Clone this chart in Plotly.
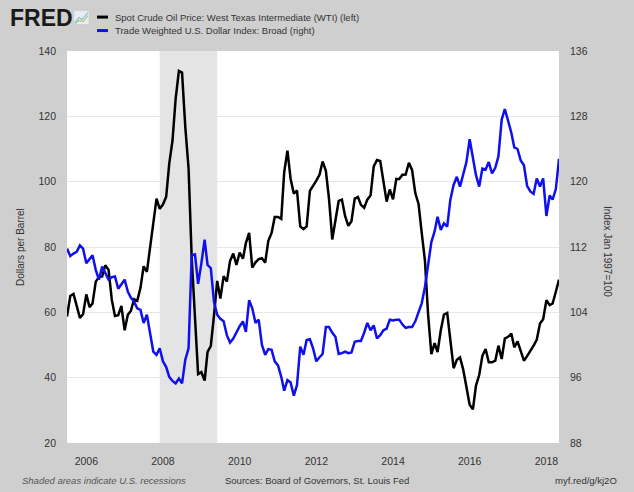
import plotly.graph_objects as go
import pandas as pd

# monthly observations, Jul 2005 .. May 2018
months = pd.date_range("2005-07-01", "2018-05-01", freq="MS")

wti = [
    58.7, 65.0, 65.6, 62.3, 58.3, 59.4,
    65.5, 61.6, 62.7, 69.4, 70.8, 71.0, 74.4, 73.0, 63.8, 58.9, 59.1, 62.0,
    54.5, 59.3, 60.4, 64.0, 63.5, 67.5, 74.1, 72.4, 79.9, 85.8, 94.8, 91.7,
    93.0, 95.4, 105.5, 112.6, 125.4, 133.9, 133.4, 116.7, 104.1, 76.6, 57.3, 41.1,
    41.7, 39.1, 47.9, 49.7, 59.0, 69.6, 64.2, 71.1, 69.4, 75.7, 78.0, 74.5,
    78.3, 76.4, 81.2, 84.3, 73.7, 75.3, 76.3, 76.6, 75.2, 81.9, 84.3, 89.2,
    89.2, 88.6, 102.9, 109.5, 100.9, 96.3, 97.3, 86.3, 85.5, 86.3, 97.2, 98.6,
    100.3, 102.2, 106.2, 103.3, 94.7, 82.3, 87.9, 94.1, 94.5, 89.5, 86.5, 87.9,
    94.8, 95.3, 92.9, 92.0, 94.5, 95.8, 104.7, 106.6, 106.3, 100.5, 93.9, 97.6,
    94.6, 100.8, 100.8, 102.1, 102.2, 105.8, 103.6, 96.5, 93.2, 84.4, 75.8, 59.3,
    47.2, 50.6, 47.8, 54.5, 59.3, 59.8, 50.9, 42.9, 45.5, 46.2, 42.4, 37.2,
    31.7, 30.3, 37.6, 40.8, 46.7, 48.8, 44.7, 44.7, 45.2, 49.8, 45.7, 52.0,
    52.5, 53.5, 49.3, 51.1, 48.5, 45.2, 46.6, 48.0, 49.8, 51.6, 56.6, 57.9,
    63.7, 62.2, 62.7, 66.3, 70.0,
]

usd_broad = [
    111.8, 110.9, 111.2, 111.4, 112.2, 111.8, 110.0, 110.5, 111.0, 109.2,
    108.0, 109.6, 108.9, 108.0, 108.3, 108.4, 106.9, 107.5, 108.0, 106.5,
    105.8, 105.3, 104.5, 104.3, 102.7, 103.7, 101.4, 99.2, 98.8, 99.6,
    98.0, 97.3, 96.1, 95.6, 95.3, 95.9, 95.3, 98.2, 99.6, 111.0,
    111.1, 107.5, 110.0, 112.9, 109.8, 109.4, 105.3, 103.7, 103.2, 102.9,
    101.2, 100.3, 100.8, 101.6, 102.3, 102.9, 101.6, 105.5, 104.5, 102.7,
    103.1, 100.0, 98.8, 99.5, 99.4, 98.0, 97.5, 96.1, 94.4, 95.7,
    95.4, 93.8, 95.1, 99.8, 98.8, 100.6, 100.7, 99.6, 98.0, 98.5,
    98.9, 102.2, 102.2, 101.5, 101.0, 98.9, 99.0, 99.2, 99.0, 99.1,
    100.4, 100.5, 100.5, 101.5, 102.7, 101.8, 102.4, 100.8, 101.2, 101.8,
    102.0, 103.1, 103.0, 103.1, 103.1, 102.5, 102.1, 102.2, 102.2, 102.9, 104.1,
    105.1, 107.1, 109.8, 112.6, 113.9, 115.7, 114.1, 114.9, 114.5, 117.8,
    119.6, 120.6, 119.4, 121.0, 122.4, 125.2, 123.1, 120.8, 119.4, 121.6,
    121.5, 122.4, 121.0, 121.7, 123.1, 127.6, 128.9, 127.4, 126.0, 124.2,
    124.0, 122.6, 122.0, 119.5, 118.8, 118.5, 120.4, 119.4, 120.4, 115.8,
    118.3, 117.8, 119.1, 122.8,
]

year_ticks = ["2006-01-01", "2008-01-01", "2010-01-01", "2012-01-01",
              "2014-01-01", "2016-01-01", "2018-01-01"]
year_labels = ["2006", "2008", "2010", "2012", "2014", "2016", "2018"]
left_ticks = [20, 40, 60, 80, 100, 120, 140]
right_ticks = [88, 96, 104, 112, 120, 128, 136]
recession = ("2007-12-01", "2009-06-01")

name_oil = "Spot Crude Oil Price: West Texas Intermediate (WTI) (left)"
name_usd = "Trade Weighted U.S. Dollar Index: Broad (right)"

BG = "#cfcfcf"
TXT = "#333333"
FONT = "Liberation Sans"

# plot box in pixels
L, R, T, B = 67, 559, 50.5, 443.5


def px(x):
    return (x - L) / (R - L)


def py(y):
    return (B - y) / (B - T)


fig = go.Figure()
fig.add_trace(go.Scatter(x=months, y=wti, mode="lines", name=name_oil,
                         line=dict(color="#000000", width=2.5)))
fig.add_trace(go.Scatter(x=months, y=usd_broad, mode="lines", name=name_usd,
                         yaxis="y2", line=dict(color="#1010ee", width=2.5)))

fig.add_shape(type="rect", xref="x", yref="paper", x0=recession[0], x1=recession[1],
              y0=0, y1=1, fillcolor="#e4e4e4", line_width=0, layer="below")

# legend swatches
fig.add_shape(type="line", xref="paper", yref="paper", x0=px(97), x1=px(108),
              y0=py(16.5), y1=py(16.5), line=dict(color="#000000", width=3))
fig.add_shape(type="line", xref="paper", yref="paper", x0=px(97), x1=px(108),
              y0=py(30), y1=py(30), line=dict(color="#1010ee", width=3))

# little logo chart icon
fig.add_shape(type="rect", xref="paper", yref="paper", x0=px(74), x1=px(89),
              y0=py(24), y1=py(10), fillcolor="#e8eef0", line=dict(color="#c0c8c8", width=0.5))
fig.add_shape(type="path", xref="paper", yref="paper",
              path="M {} {} L {} {} L {} {} L {} {}".format(px(75), py(22), px(79), py(17),
                                                        px(82), py(19), px(88), py(12)),
              line=dict(color="#8fb8d8", width=1.2))
fig.add_shape(type="path", xref="paper", yref="paper",
              path="M {} {} L {} {} L {} {} L {} {}".format(px(75), py(23), px(79), py(20),
                                                        px(83), py(21), px(88), py(15)),
              line=dict(color="#a8c878", width=1.2))

ann = [
    dict(text="<b>FRED</b>", x=px(8), y=py(17), xanchor="left", yanchor="middle",
         font=dict(family=FONT, size=23, color="#1a1a1a")),
    dict(text=name_oil, x=px(113), y=py(16.5), xanchor="left", yanchor="middle",
         font=dict(family=FONT, size=9.5, color=TXT)),
    dict(text=name_usd, x=px(113), y=py(30), xanchor="left", yanchor="middle",
         font=dict(family=FONT, size=9.5, color=TXT)),
    dict(text="Dollars per Barrel", x=px(20), y=py(247), textangle=-90,
         xanchor="center", yanchor="middle", font=dict(family=FONT, size=10, color=TXT)),
    dict(text="Index Jan 1997=100", x=px(607), y=py(251), textangle=90,
         xanchor="center", yanchor="middle", font=dict(family=FONT, size=10, color=TXT)),
    dict(text="<i>Shaded areas indicate U.S. recessions</i>", x=px(20), y=py(481),
         xanchor="left", yanchor="middle", font=dict(family=FONT, size=9.5, color="#555555")),
    dict(text="Sources: Board of Governors, St. Louis Fed", x=px(223), y=py(481),
         xanchor="left", yanchor="middle", font=dict(family=FONT, size=9.5, color=TXT)),
    dict(text="myf.red/g/kj2O", x=px(619), y=py(481),
         xanchor="right", yanchor="middle", font=dict(family=FONT, size=9.5, color=TXT)),
]
for a in ann:
    fig.add_annotation(xref="paper", yref="paper", showarrow=False, **a)

fig.update_layout(
    width=634, height=492,
    margin=dict(l=L, r=634 - R, t=T, b=492 - B, pad=0),
    paper_bgcolor=BG, plot_bgcolor="white",
    showlegend=False,
    font=dict(family=FONT, size=10.5, color=TXT),
    xaxis=dict(type="date", range=[months[0], months[-1]], tickvals=year_ticks,
               ticktext=year_labels, showgrid=False, zeroline=False, showline=False,
               ticks="", ticklabelstandoff=10),
    yaxis=dict(range=[20, 140], tickvals=left_ticks, showgrid=True, gridcolor="#e6e6e6",
               gridwidth=1, zeroline=False, showline=False, ticks="", ticklabelstandoff=10),
    yaxis2=dict(range=[88, 136], tickvals=right_ticks, overlaying="y", side="right",
                showgrid=False, zeroline=False, showline=False, ticks="",
                ticklabelstandoff=10),
)

# drop the page's default body margin so the chart sits at the window corner
fig.write_html("out.html", config={"displayModeBar": False},
               post_script="document.body.style.margin='0';")
